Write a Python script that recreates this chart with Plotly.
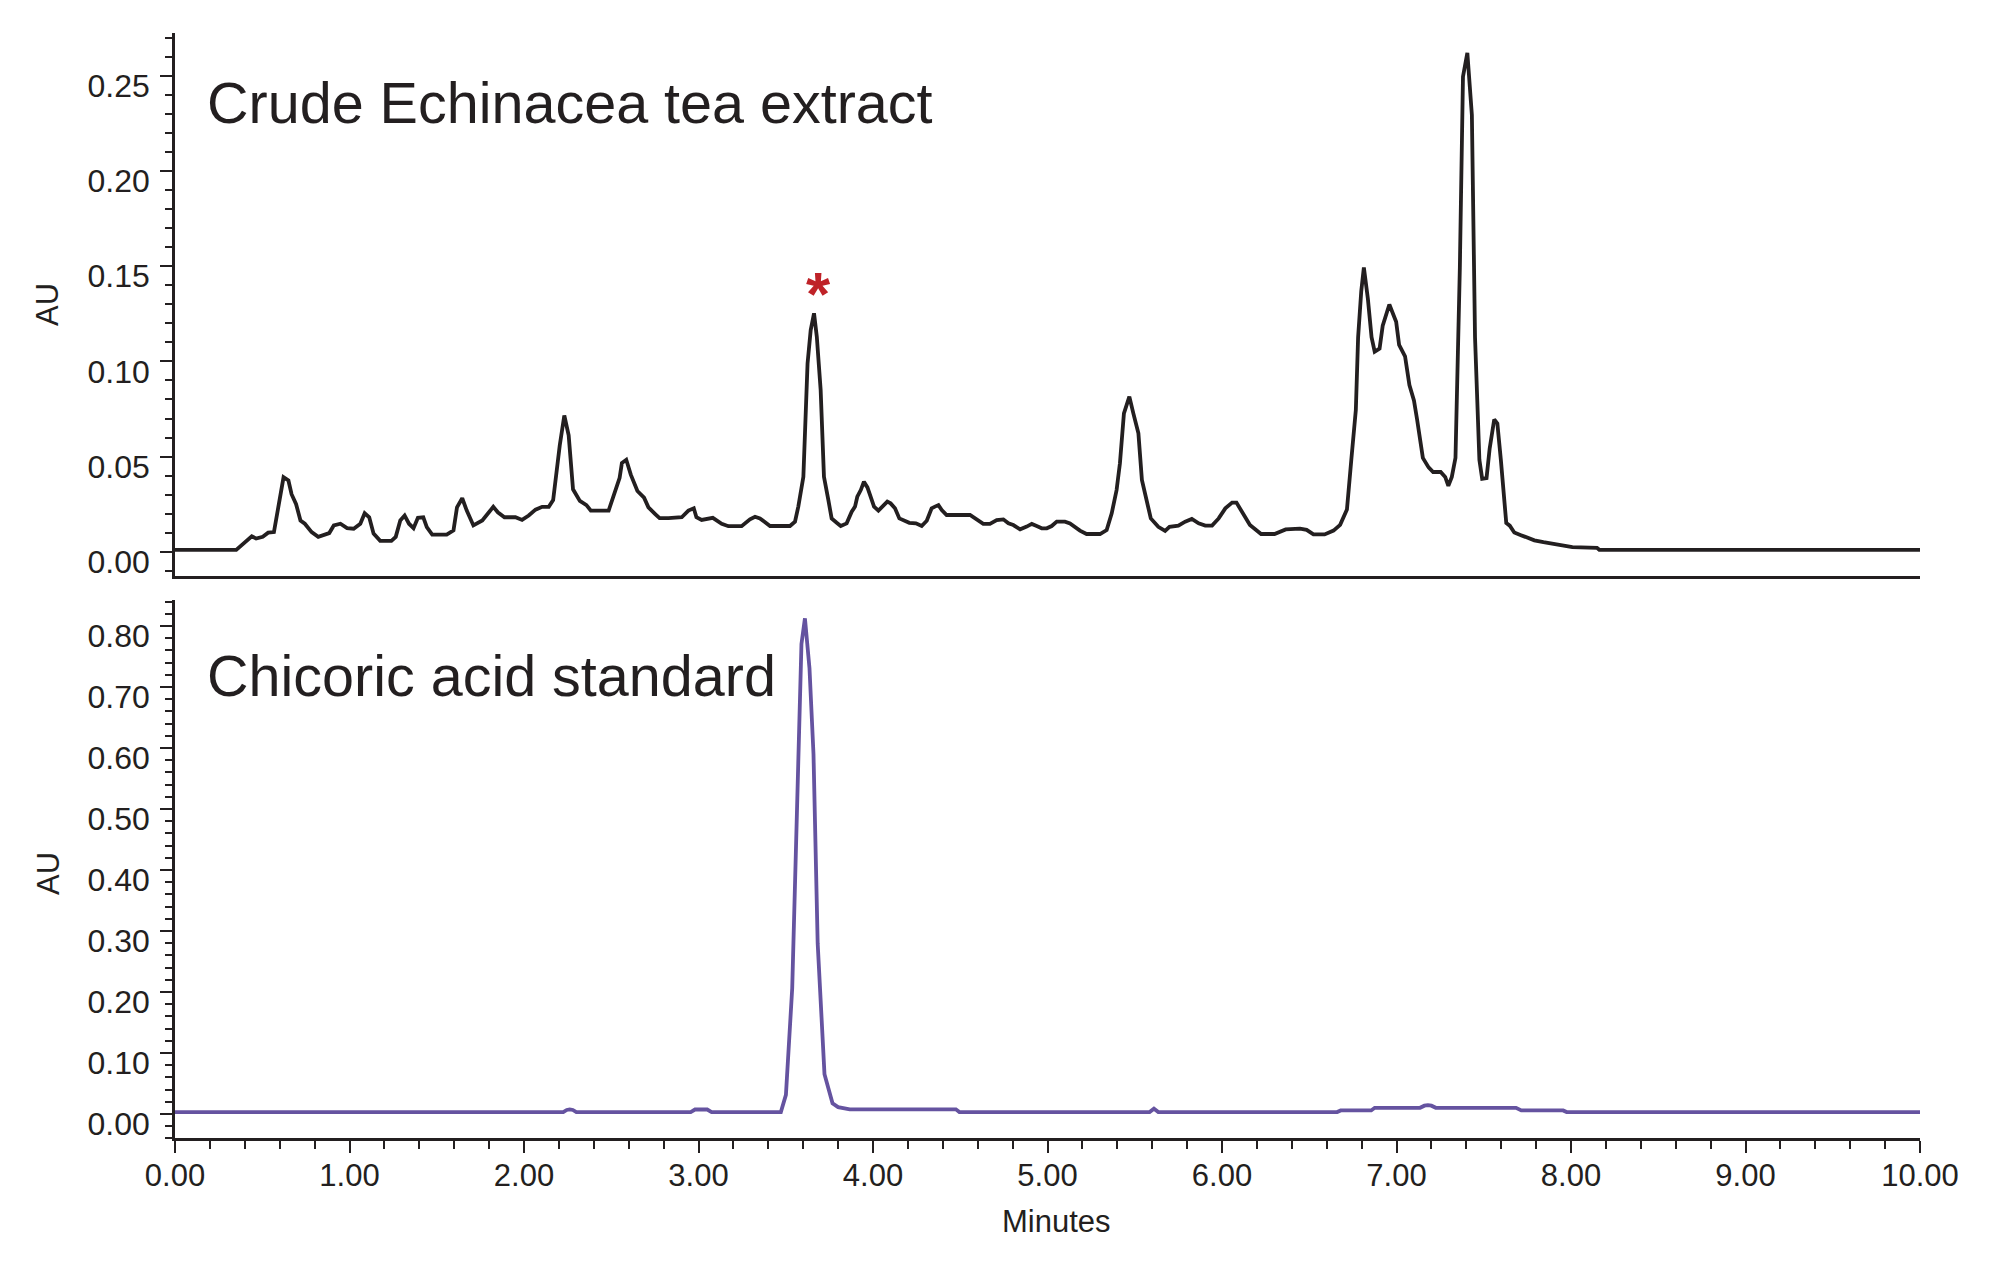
import plotly.graph_objects as go

# ---------------- data ----------------
extract_minutes = [0.000, 0.351, 0.440, 0.465, 0.503, 0.534, 0.567, 0.592, 0.622, 0.650, 0.668, 0.694,
                   0.719, 0.744, 0.783, 0.821, 0.859, 0.884, 0.910, 0.948, 0.986, 1.024, 1.062, 1.087,
                   1.113, 1.138, 1.176, 1.240, 1.265, 1.291, 1.316, 1.341, 1.367, 1.392, 1.423, 1.443,
                   1.474, 1.557, 1.596, 1.616, 1.646, 1.672, 1.710, 1.761, 1.799, 1.824, 1.850, 1.888,
                   1.951, 1.989, 2.027, 2.066, 2.104, 2.142, 2.167, 2.185, 2.205, 2.231, 2.256, 2.281,
                   2.320, 2.358, 2.383, 2.485, 2.523, 2.548, 2.561, 2.586, 2.612, 2.650, 2.688, 2.713,
                   2.752, 2.777, 2.828, 2.904, 2.942, 2.973, 2.988, 3.018, 3.082, 3.133, 3.171, 3.247,
                   3.295, 3.324, 3.352, 3.381, 3.410, 3.524, 3.553, 3.572, 3.601, 3.625, 3.643, 3.662,
                   3.678, 3.700, 3.719, 3.744, 3.763, 3.792, 3.815, 3.849, 3.878, 3.897, 3.910, 3.930,
                   3.948, 3.968, 3.987, 4.006, 4.031, 4.056, 4.082, 4.101, 4.126, 4.151, 4.178, 4.208,
                   4.246, 4.279, 4.308, 4.336, 4.355, 4.375, 4.394, 4.422, 4.556, 4.594, 4.632, 4.670,
                   4.709, 4.747, 4.776, 4.804, 4.843, 4.881, 4.910, 4.938, 4.967, 4.996, 5.024, 5.053,
                   5.100, 5.129, 5.158, 5.186, 5.224, 5.301, 5.339, 5.368, 5.396, 5.415, 5.438, 5.469,
                   5.492, 5.521, 5.541, 5.572, 5.592, 5.635, 5.674, 5.699, 5.750, 5.789, 5.827, 5.866,
                   5.904, 5.943, 5.981, 6.019, 6.058, 6.083, 6.122, 6.160, 6.224, 6.301, 6.365, 6.447,
                   6.485, 6.524, 6.588, 6.639, 6.677, 6.716, 6.741, 6.767, 6.780, 6.798, 6.813, 6.836,
                   6.857, 6.875, 6.903, 6.921, 6.959, 6.998, 7.015, 7.049, 7.074, 7.100, 7.118, 7.151,
                   7.184, 7.210, 7.253, 7.279, 7.297, 7.317, 7.338, 7.348, 7.363, 7.381, 7.406, 7.432,
                   7.450, 7.475, 7.491, 7.516, 7.534, 7.560, 7.578, 7.598, 7.629, 7.649, 7.675, 7.713,
                   7.752, 7.790, 7.842, 7.918, 8.008, 8.149, 8.162, 10.000]
extract_au = [0.0010, 0.0010, 0.0081, 0.0069, 0.0078, 0.0100, 0.0103, 0.0233, 0.0391, 0.0374, 0.0302, 0.0250,
              0.0164, 0.0147, 0.0103, 0.0078, 0.0090, 0.0098, 0.0138, 0.0147, 0.0124, 0.0121, 0.0147, 0.0202,
              0.0181, 0.0095, 0.0057, 0.0057, 0.0078, 0.0164, 0.0190, 0.0147, 0.0124, 0.0178, 0.0181, 0.0129,
              0.0090, 0.0090, 0.0112, 0.0233, 0.0281, 0.0216, 0.0138, 0.0164, 0.0207, 0.0236, 0.0207, 0.0181,
              0.0181, 0.0167, 0.0190, 0.0221, 0.0236, 0.0236, 0.0271, 0.0422, 0.0560, 0.0716, 0.0612, 0.0328,
              0.0267, 0.0245, 0.0216, 0.0216, 0.0319, 0.0388, 0.0466, 0.0483, 0.0405, 0.0319, 0.0284, 0.0233,
              0.0198, 0.0176, 0.0176, 0.0181, 0.0216, 0.0228, 0.0181, 0.0167, 0.0178, 0.0147, 0.0134, 0.0134,
              0.0170, 0.0184, 0.0175, 0.0152, 0.0135, 0.0135, 0.0158, 0.0237, 0.0394, 0.0990, 0.1165, 0.1253,
              0.1130, 0.0850, 0.0394, 0.0272, 0.0175, 0.0152, 0.0135, 0.0149, 0.0210, 0.0237, 0.0289, 0.0324,
              0.0368, 0.0338, 0.0289, 0.0237, 0.0216, 0.0237, 0.0263, 0.0254, 0.0228, 0.0175, 0.0163, 0.0152,
              0.0149, 0.0135, 0.0163, 0.0228, 0.0237, 0.0245, 0.0219, 0.0193, 0.0193, 0.0170, 0.0146, 0.0146,
              0.0166, 0.0170, 0.0149, 0.0140, 0.0118, 0.0132, 0.0146, 0.0135, 0.0123, 0.0123, 0.0135, 0.0158,
              0.0158, 0.0149, 0.0130, 0.0111, 0.0093, 0.0093, 0.0114, 0.0202, 0.0324, 0.0464, 0.0727, 0.0815,
              0.0727, 0.0622, 0.0377, 0.0243, 0.0175, 0.0131, 0.0110, 0.0131, 0.0137, 0.0158, 0.0172, 0.0149,
              0.0137, 0.0137, 0.0175, 0.0228, 0.0258, 0.0258, 0.0202, 0.0140, 0.0093, 0.0093, 0.0117, 0.0121,
              0.0115, 0.0091, 0.0091, 0.0111, 0.0141, 0.0222, 0.0483, 0.0745, 0.1127, 0.1369, 0.1494, 0.1329,
              0.1127, 0.1051, 0.1067, 0.1188, 0.1299, 0.1208, 0.1087, 0.1027, 0.0876, 0.0795, 0.0695, 0.0493,
              0.0443, 0.0419, 0.0419, 0.0393, 0.0346, 0.0393, 0.0493, 0.0886, 0.1490, 0.2496, 0.2621, 0.2295,
              0.1127, 0.0483, 0.0383, 0.0387, 0.0543, 0.0695, 0.0674, 0.0483, 0.0151, 0.0137, 0.0101, 0.0087,
              0.0075, 0.0060, 0.0050, 0.0040, 0.0024, 0.0020, 0.0010, 0.0010]

standard_minutes = [0.000, 2.225, 2.245, 2.262, 2.280, 2.300, 2.955, 2.980, 3.050, 3.075, 3.472, 3.501,
                    3.537, 3.561, 3.576, 3.590, 3.610, 3.636, 3.659, 3.683, 3.722, 3.768, 3.800, 3.827,
                    3.867, 4.475, 4.495, 5.585, 5.610, 5.635, 6.660, 6.680, 6.855, 6.875, 7.135, 7.160,
                    7.180, 7.200, 7.225, 7.685, 7.715, 7.955, 7.975, 10.000]
standard_au = [0.0030, 0.0030, 0.0065, 0.0074, 0.0065, 0.0030, 0.0030, 0.0072, 0.0072, 0.0030, 0.0030, 0.0313,
               0.2060, 0.4487, 0.6350, 0.7702, 0.8125, 0.7307, 0.5897, 0.2795, 0.0652, 0.0173, 0.0110, 0.0090,
               0.0075, 0.0075, 0.0030, 0.0030, 0.0085, 0.0030, 0.0030, 0.0057, 0.0057, 0.0100, 0.0100, 0.0135,
               0.0145, 0.0135, 0.0100, 0.0100, 0.0057, 0.0057, 0.0030, 0.0030]

panel_titles = ["Crude Echinacea tea extract", "Chicoric acid standard"]
x_title = "Minutes"
y_title = "AU"
marked_peak = (3.685, 0.1355)   # red asterisk over the chicoric acid peak

# ---------------- styling ----------------
INK = "#231f20"
PURPLE = "#6553a0"
RED = "#bf2228"
FONT = "Liberation Sans, Arial, Helvetica, sans-serif"
W, H = 2000, 1265

xdom = [175 / W, 1920 / W]
top_dom = [1 - 575.5 / H, 1 - 32.6 / H]
bot_dom = [1 - 1138.3 / H, 1 - 599.7 / H]

fig = go.Figure()
fig.add_trace(go.Scatter(x=extract_minutes, y=extract_au, mode="lines",
                         line=dict(color=INK, width=3.8), xaxis="x", yaxis="y",
                         showlegend=False, hoverinfo="x+y"))
fig.add_trace(go.Scatter(x=standard_minutes, y=standard_au, mode="lines",
                         line=dict(color=PURPLE, width=3.8), xaxis="x2", yaxis="y2",
                         showlegend=False, hoverinfo="x+y"))

xtickfont = dict(family=FONT, size=31, color=INK)
ytickfont = dict(family=FONT, size=32, color=INK)

yaxis_common = dict(showline=True, linecolor=INK, linewidth=2.5, ticks="outside", ticklen=12,
                    tickwidth=2, tickcolor=INK, tickformat=".2f", showgrid=False, zeroline=False,
                    tickfont=ytickfont, ticklabelposition="outside", ticklabelstandoff=4,
                    ticklabelshift=10, tick0=0, automargin=False)

fig.update_layout(
    width=W, height=H, autosize=False,
    margin=dict(l=0, r=0, t=0, b=0, pad=0),
    paper_bgcolor="white", plot_bgcolor="white",
    font=dict(family=FONT, color=INK),
    xaxis=dict(domain=xdom, anchor="y", range=[0, 10], showline=True, linecolor=INK, linewidth=2.5,
               ticks="", showticklabels=False, showgrid=False, zeroline=False, automargin=False),
    yaxis=dict(domain=top_dom, anchor="x", range=[-0.0125, 0.2728], dtick=0.05,
               minor=dict(dtick=0.01, tick0=0, ticks="outside", ticklen=7, tickwidth=2,
                          tickcolor=INK, showgrid=False),
               **yaxis_common),
    xaxis2=dict(domain=xdom, anchor="y2", range=[0, 10], dtick=1, tick0=0, tickformat=".2f",
                showline=True, linecolor=INK, linewidth=2.5, ticks="outside", ticklen=12,
                tickwidth=2, tickcolor=INK, showgrid=False, zeroline=False, tickfont=xtickfont,
                ticklabelstandoff=-4, automargin=False,
                minor=dict(dtick=0.2, tick0=0, ticks="outside", ticklen=8, tickwidth=2,
                           tickcolor=INK, showgrid=False)),
    yaxis2=dict(domain=bot_dom, anchor="x2", range=[-0.040, 0.843], dtick=0.1,
                minor=dict(dtick=0.02, tick0=0, ticks="outside", ticklen=7, tickwidth=2,
                           tickcolor=INK, showgrid=False),
                **yaxis_common),
)

ann = []
ann.append(dict(text=panel_titles[0], xref="paper", yref="paper", x=205 / W, y=1 - 103 / H,
                xanchor="left", yanchor="middle", showarrow=False,
                font=dict(family=FONT, size=57.5, color=INK)))
ann.append(dict(text=panel_titles[1], xref="paper", yref="paper", x=205 / W, y=1 - 676 / H,
                xanchor="left", yanchor="middle", showarrow=False,
                font=dict(family=FONT, size=57.5, color=INK)))
ann.append(dict(text=y_title, xref="paper", yref="paper", x=48 / W, y=1 - 305 / H,
                xanchor="center", yanchor="middle", textangle=-90, showarrow=False,
                font=dict(family=FONT, size=31, color=INK)))
ann.append(dict(text=y_title, xref="paper", yref="paper", x=48 / W, y=1 - 874 / H,
                xanchor="center", yanchor="middle", textangle=-90, showarrow=False,
                font=dict(family=FONT, size=31, color=INK)))
ann.append(dict(text=x_title, xref="paper", yref="paper", x=1056 / W, y=1 - 1221 / H,
                xanchor="center", yanchor="middle", showarrow=False,
                font=dict(family=FONT, size=31, color=INK)))
ann.append(dict(text="<b>*</b>", xref="x", yref="y", x=marked_peak[0], y=marked_peak[1],
                xanchor="center", yanchor="middle", showarrow=False,
                font=dict(family=FONT, size=62, color=RED)))
fig.update_layout(annotations=ann)

fig.write_html("out.html")
